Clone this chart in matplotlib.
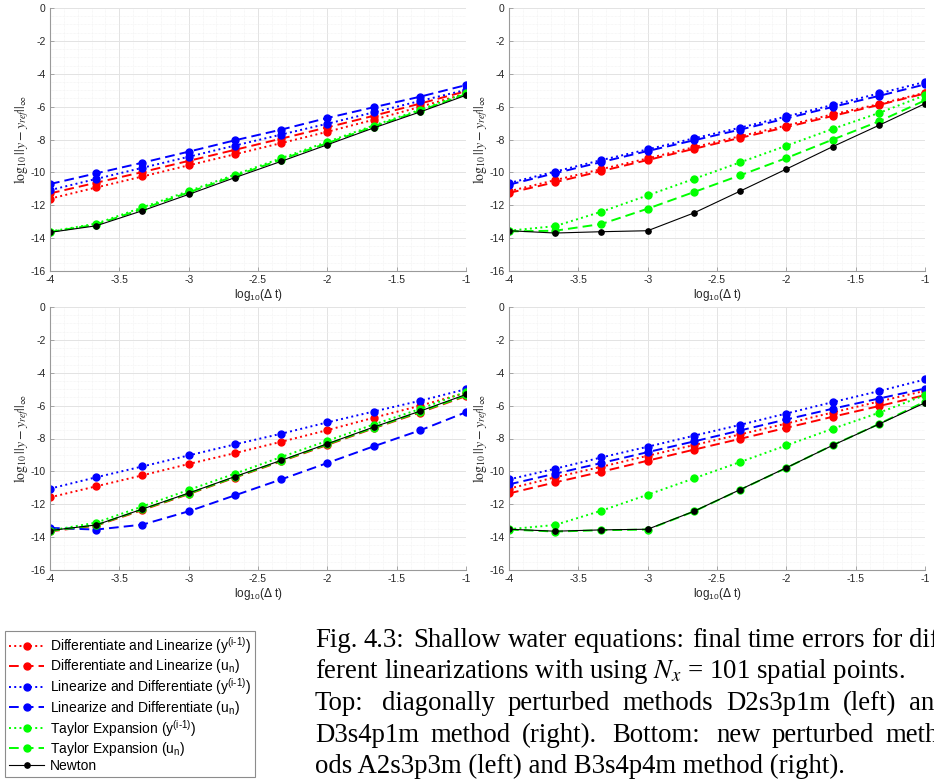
"""
Shallow water equations: final time errors for different linearizations
(4 methods, 7 variants each), MATLAB-style convergence plots + caption.
"""
import matplotlib
matplotlib.use('Agg')
import matplotlib.pyplot as plt
from matplotlib.ticker import MultipleLocator, FormatStrFormatter

# ====== DATA ======
log_dt = [-4.0, -3.667, -3.333, -3.0, -2.667, -2.333, -2.0, -1.667, -1.333, -1.0]

# top-left: D2s3p1m
tl_dl_y  = [-11.60, -10.92, -10.25, -9.57, -8.90, -8.22, -7.53, -6.80, -6.02, -5.20]
tl_dl_u  = [-11.28, -10.63, -9.98, -9.30, -8.63, -7.95, -7.26, -6.56, -5.82, -5.06]
tl_ld_y  = [-11.08, -10.40, -9.72, -9.05, -8.37, -7.70, -7.04, -6.35, -5.66, -4.98]
tl_ld_u  = [-10.71, -10.06, -9.41, -8.74, -8.05, -7.40, -6.69, -6.04, -5.40, -4.69]
tl_te_y  = [-13.60, -13.12, -12.13, -11.14, -10.14, -9.14, -8.14, -7.15, -6.20, -5.18]
tl_te_u  = [-13.62, -13.18, -12.22, -11.22, -10.22, -9.22, -8.22, -7.22, -6.26, -5.24]
tl_newton = [-13.65, -13.25, -12.33, -11.34, -10.32, -9.33, -8.32, -7.30, -6.33, -5.31]

# top-right: D3s4p1m
tr_dl_y  = [-11.15, -10.47, -9.80, -9.15, -8.47, -7.80, -7.15, -6.47, -5.85, -5.15]
tr_dl_u  = [-11.25, -10.60, -9.92, -9.25, -8.57, -7.90, -7.25, -6.57, -5.90, -5.20]
tr_ld_y  = [-10.65, -9.95, -9.25, -8.60, -7.93, -7.28, -6.60, -5.90, -5.20, -4.50]
tr_ld_u  = [-10.75, -10.05, -9.37, -8.70, -8.05, -7.40, -6.72, -6.02, -5.35, -4.65]
tr_te_y  = [-13.55, -13.27, -12.39, -11.40, -10.40, -9.39, -8.38, -7.36, -6.39, -5.31]
tr_te_u  = [-13.59, -13.55, -13.14, -12.21, -11.20, -10.18, -9.13, -8.01, -6.90, -5.62]
tr_newton = [-13.55, -13.69, -13.61, -13.55, -12.47, -11.14, -9.80, -8.44, -7.14, -5.82]

# bottom-left: A2s3p3m
bl_dl_y  = [-11.58, -10.91, -10.24, -9.55, -8.89, -8.20, -7.49, -6.74, -6.01, -5.22]
bl_dl_u  = [-13.65, -13.30, -12.35, -11.38, -10.38, -9.39, -8.39, -7.38, -6.42, -5.42]
bl_ld_y  = [-11.05, -10.36, -9.70, -9.03, -8.36, -7.71, -7.02, -6.36, -5.71, -5.00]
bl_ld_u  = [-13.44, -13.54, -13.24, -12.43, -11.46, -10.49, -9.49, -8.48, -7.51, -6.40]
bl_te_y  = [-13.60, -13.12, -12.13, -11.13, -10.14, -9.13, -8.14, -7.15, -6.21, -5.16]
bl_te_u  = [-13.62, -13.27, -12.31, -11.35, -10.35, -9.36, -8.35, -7.35, -6.38, -5.38]
bl_newton = [-13.60, -13.26, -12.29, -11.32, -10.32, -9.33, -8.32, -7.31, -6.34, -5.32]

# bottom-right: B3s4p4m
br_dl_y  = [-11.05, -10.36, -9.72, -9.05, -8.40, -7.75, -7.09, -6.42, -5.75, -5.10]
br_dl_u  = [-11.34, -10.67, -10.02, -9.35, -8.68, -8.02, -7.35, -6.68, -6.03, -5.36]
br_ld_y  = [-10.49, -9.84, -9.15, -8.50, -7.83, -7.17, -6.48, -5.79, -5.12, -4.41]
br_ld_u  = [-10.79, -10.14, -9.49, -8.83, -8.18, -7.51, -6.84, -6.19, -5.57, -4.96]
br_te_y  = [-13.52, -13.26, -12.39, -11.42, -10.43, -9.43, -8.42, -7.41, -6.44, -5.36]
br_te_u  = [-13.54, -13.66, -13.58, -13.54, -12.44, -11.12, -9.79, -8.41, -7.12, -5.75]
br_newton = [-13.52, -13.64, -13.56, -13.52, -12.43, -11.11, -9.78, -8.42, -7.13, -5.83]

SUP = '$^{\\mathregular{(i\u20101)}}$'
SUB = '$_{\\mathregular{n}}$'
labels = ['Differentiate and Linearize (y' + SUP + ')',
          'Differentiate and Linearize (u' + SUB + ')',
          'Linearize and Differentiate (y' + SUP + ')',
          'Linearize and Differentiate (u' + SUB + ')',
          'Taylor Expansion (y' + SUP + ')',
          'Taylor Expansion (u' + SUB + ')',
          'Newton']

panels = [
    [tl_dl_y, tl_dl_u, tl_ld_y, tl_ld_u, tl_te_y, tl_te_u, tl_newton],
    [tr_dl_y, tr_dl_u, tr_ld_y, tr_ld_u, tr_te_y, tr_te_u, tr_newton],
    [bl_dl_y, bl_dl_u, bl_ld_y, bl_ld_u, bl_te_y, bl_te_u, bl_newton],
    [br_dl_y, br_dl_u, br_ld_y, br_ld_u, br_te_y, br_te_u, br_newton],
]

# (text, justified?)
caption = [
    ('Fig. 4.3: Shallow water equations: final time errors for dif-', True),
    (r'ferent linearizations with using $N_x$ = 101 spatial points.', False),
    ('Top: diagonally perturbed methods D2s3p1m (left) and', True),
    ('D3s4p1m method (right). Bottom: new perturbed meth-', True),
    ('ods A2s3p3m (left) and B3s4p4m method (right).', False),
]
# ===================

plt.rcParams['font.family'] = ['Liberation Sans', 'DejaVu Sans']
plt.rcParams['axes.unicode_minus'] = False

dotted = (0, (1, 1.7))
dashed = (0, (5, 2.6))
styles = [
    dict(color=(1, 0, 0), ls=dotted, lw=1.4, marker='o', ms=5),
    dict(color=(1, 0, 0), ls=dashed, lw=1.4, marker='o', ms=5),
    dict(color=(0, 0, 1), ls=dotted, lw=1.4, marker='o', ms=5),
    dict(color=(0, 0, 1), ls=dashed, lw=1.4, marker='o', ms=5),
    dict(color=(0, 1, 0), ls=dotted, lw=1.4, marker='o', ms=5),
    dict(color=(0, 1, 0), ls=dashed, lw=1.4, marker='o', ms=5),
    dict(color='black', ls='-', lw=0.8, marker='o', ms=3.8),
]

fig = plt.figure(figsize=(9.34, 7.8), dpi=100)
W, H = 934, 780
boxes = [(50, 8), (509, 8), (50, 307), (509, 307)]  # (left, top) in px
aw, ah = 416, 263

axes = []
for (x0, y0), series in zip(boxes, panels):
    ax = fig.add_axes([x0 / W, 1 - (y0 + ah) / H, aw / W, ah / H])
    for vals, st, lab in zip(series, styles, labels):
        ax.plot(log_dt, vals, label=lab, **st)
    ax.set_xlim(-4, -1)
    ax.set_ylim(-16, 0)
    ax.xaxis.set_major_locator(MultipleLocator(0.5))
    ax.xaxis.set_minor_locator(MultipleLocator(0.1))
    ax.xaxis.set_major_formatter(FormatStrFormatter('%g'))
    ax.yaxis.set_major_locator(MultipleLocator(2))
    ax.yaxis.set_minor_locator(MultipleLocator(0.5))
    ax.grid(which='major', color='#e3e3e3', lw=0.7)
    ax.grid(which='minor', color='#f0f0f0', lw=0.5, ls=(0, (1, 1)))
    ax.set_axisbelow(True)
    for s in ['top', 'right']:
        ax.spines[s].set_visible(False)
    for s in ['left', 'bottom']:
        ax.spines[s].set_color('#9a9a9a')
        ax.spines[s].set_linewidth(0.8)
    ax.tick_params(which='major', direction='in', length=3, width=0.6,
                   color='#9a9a9a', labelsize=7.5, labelcolor='#262626', pad=3)
    ax.tick_params(which='minor', length=0)
    ax.set_xlabel(r'log$_{\mathregular{10}}$($\Delta$ t)', fontsize=8.5,
                  color='#262626', labelpad=1)
    ax.set_ylabel(r'$\log_{10}||y - y_{ref}||_\infty$', fontsize=10,
                  math_fontfamily='stix', color='#262626', labelpad=0)
    axes.append(ax)

handles, labs = axes[0].get_legend_handles_labels()
leg = fig.legend(handles, labs, loc='lower left',
                 bbox_to_anchor=(5 / W, 3 / H), bbox_transform=fig.transFigure,
                 fontsize=10, numpoints=1, handlelength=2.5, handletextpad=0.45,
                 labelspacing=0.08, borderpad=0.3, borderaxespad=0,
                 fancybox=False, edgecolor='#8c8c8c', framealpha=1)
leg.get_frame().set_linewidth(0.8)

# caption, LaTeX-like justified lines (right margin runs off the page)
CAP_X, CAP_R = 315, 948
CAP_KW = dict(fontsize=19.3, family='Liberation Serif', math_fontfamily='stix',
              va='baseline', ha='left')
renderer = fig.canvas.get_renderer()
for i, (line, just) in enumerate(caption):
    yb = 1 - (647 + i * 31.5) / H
    if not just:
        fig.text(CAP_X / W, yb, line, **CAP_KW)
        continue
    words = line.split(' ')
    texts = [fig.text(0, yb, w, **CAP_KW) for w in words]
    widths = [t.get_window_extent(renderer).width for t in texts]
    weights = [1.4 if w.endswith(':') or w.endswith(').') else 1.0 for w in words[:-1]]
    unit = (CAP_R - CAP_X - sum(widths)) / sum(weights)
    x = CAP_X
    for t, wd, wt in zip(texts, widths, weights + [0]):
        t.set_x(x / W)
        x += wd + wt * unit

fig.savefig('out.png', dpi=100)
